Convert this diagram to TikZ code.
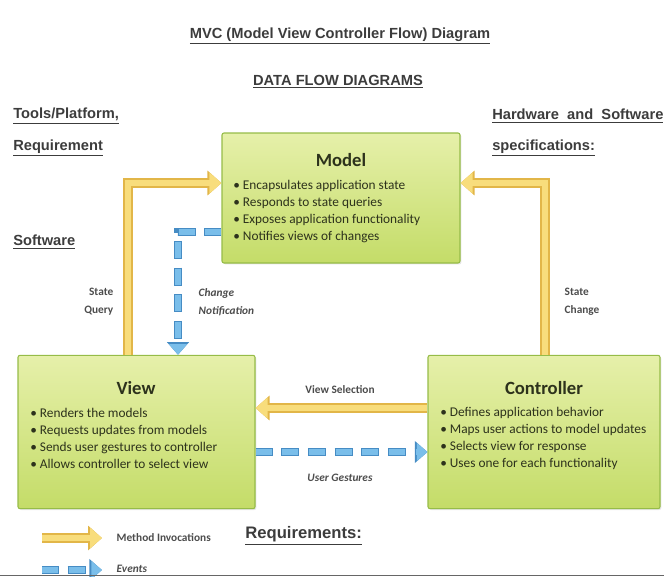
\documentclass[tikz,border=0pt]{standalone}
\usepackage{fontspec}
\setmainfont{Carlito}
\newfontfamily\hdfont{Liberation Sans}
\usetikzlibrary{arrows.meta, positioning, calc, shadows}
\definecolor{boxtop}{RGB}{230,240,170}
\definecolor{boxbot}{RGB}{196,220,104}
\definecolor{boxedge}{RGB}{150,188,72}
\definecolor{ink}{RGB}{45,50,28}
\definecolor{yel}{RGB}{248,221,124}
\definecolor{yeledge}{RGB}{226,182,72}
\definecolor{blu}{RGB}{122,190,234}
\definecolor{bluedge}{RGB}{70,140,196}
\definecolor{hdgray}{RGB}{60,60,60}
\tikzset{
  box/.style = {rectangle, rounded corners=1.5pt, draw=boxedge, line width=0.8pt,
    top color=boxtop, bottom color=boxbot,
    drop shadow={opacity=0.2, shadow xshift=1pt, shadow yshift=-1pt}},
  tt/.style = {font=\fontsize{14}{16}\selectfont\bfseries, text=ink},
  lst/.style = {font=\fontsize{10}{12.75}\selectfont, text=ink, align=left, inner sep=0pt},
  hd/.style = {font=\hdfont\bfseries\fontsize{11}{13}\selectfont, text=hdgray, inner sep=0pt},
  lb/.style = {font=\fontsize{8.5}{13.5}\selectfont\bfseries, text=black!70},
  mi/.style = {draw=yel, line width=5pt, -{Triangle[length=9pt, width=15pt]},
    preaction={draw=yeledge, line width=7pt, -{Triangle[length=10.5pt, width=18pt]}}},
  ev/.style = {draw=blu, line width=5pt, dash pattern=on 12pt off 8pt,
    -{Triangle[length=8pt, width=13pt]},
    preaction={draw=bluedge, line width=6.5pt, dash pattern=on 13.5pt off 6.5pt,
      dash phase=0.75pt, -{Triangle[length=9.5pt, width=16pt]}}}
}
\newcommand{\itm}{\textbullet~}

\begin{document}
\begin{tikzpicture}[x=0.75pt, y=-0.75pt]
  \useasboundingbox (0,0) rectangle (664,576);
  \clip (0,0) rectangle (664,576);
  \node [hd] (ttl) at (340,36) {\underline{MVC (Model View Controller Flow) Diagram}};
  \node [hd] (dfd) at (338,82) {\underline{DATA FLOW DIAGRAMS}};
  \node [hd, anchor=west] (tool) at (13,116) {\underline{Tools/Platform,}};
  \node [hd, anchor=west] (req) at (13,148) {\underline{Requirement}};
  \node [hd, anchor=west] (sw) at (13,242) {\underline{Software}};
  \node [hd, anchor=west] (hw) at (492,116) {\underline{Hardware\ \ and\ \ Software}};
  \node [hd, anchor=west] (spec) at (492,148) {\underline{specifications:}};

  \node [box, minimum width=178.5pt, minimum height=97.5pt] (model) at (341,198) {};
  \node [box, minimum width=177.75pt, minimum height=115pt] (view) at (136.5,432) {};
  \node [box, minimum width=174pt, minimum height=115pt] (ctrl) at (544,432) {};

  \node [tt] (model-t) at (341,160) {Model};
  \node [lst, anchor=west] (model-l) at (233,212) {\itm Encapsulates application state\\
    \itm Responds to state queries\\ \itm Exposes application functionality\\
    \itm Notifies views of changes};
  \node [tt] (view-t) at (136,388) {View};
  \node [lst, anchor=west] (view-l) at (30,438) {\itm Renders the models\\
    \itm Requests updates from models\\ \itm Sends user gestures to controller\\
    \itm Allows controller to select view};
  \node [tt] (ctrl-t) at (544,388) {Controller};
  \node [lst, anchor=west] (ctrl-l) at (440,438) {\itm Defines application behavior\\
    \itm Maps user actions to model updates\\ \itm Selects view for response\\
    \itm Uses one for each functionality};

  \coordinate (sq) at (128,183);
  \coordinate (sc) at (545,183);
  \coordinate (cn) at (178,232);
  \coordinate (vs) at (0,408);
  \coordinate (ug) at (0,452);
  \draw [mi] (view.north -| sq) |- (model.west |- sq);
  \draw [mi] (ctrl.north -| sc) |- (model.east |- sc);
  \draw [ev] (model.west |- cn) -| (view.north -| cn);
  \draw [mi] (ctrl.west |- vs) -- (view.east |- vs);
  \draw [ev] (view.east |- ug) -- (ctrl.west |- ug);

  \node [lb, align=right, anchor=east] (sq-l) at (118,302) {State\\Query};
  \node [lb, align=left, anchor=west] (cn-l) at (194,302) {\itshape Change\\\itshape Notification};
  \node [lb, align=left, anchor=west] (sc-l) at (560,302) {State\\Change};
  \node [lb] (vs-l) at (340,390) {View Selection};
  \node [lb] (ug-l) at (340,478) {\itshape User Gestures};

  \coordinate (m0) at (42,538);
  \coordinate (m1) at (102,538);
  \draw [mi] (m0) -- (m1);
  \node [lb, anchor=west] (m-l) at (112,538) {Method Invocations};
  \node [hd, anchor=west, font=\hdfont\bfseries\fontsize{12.5}{15}\selectfont] (rq) at (245,536) {\underline{Requirements:}};
  \coordinate (e0) at (42,570);
  \coordinate (e1) at (102,570);
  \draw [ev] (e0) -- (e1);
  \node [lb, anchor=west] (e-l) at (112,569) {\itshape Events};
  \draw [black!60, line width=1.2pt] (0,575.5) -- (664,575.5);
\end{tikzpicture}
\end{document}
